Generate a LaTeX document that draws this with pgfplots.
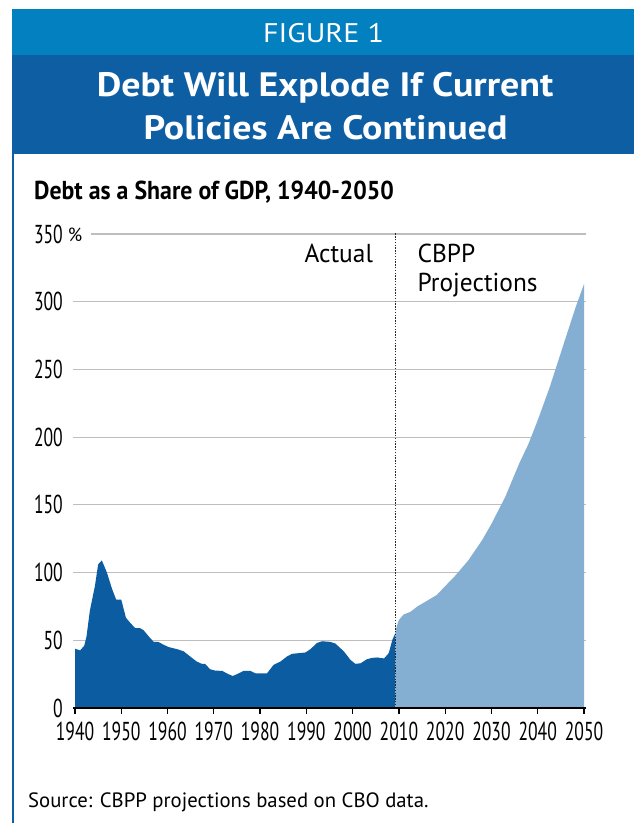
\documentclass[border=0pt]{standalone}
\usepackage{pgfplots}
\pgfplotsset{compat=1.18}
\usepackage{fontspec}
\setmainfont{PT Sans}
\newfontfamily\condfont[FakeStretch=0.68]{PT Sans}
\newfontfamily\subfont[FakeStretch=0.92]{PT Sans}
\newfontfamily\labfont[FakeStretch=0.98]{PT Sans}
\newfontfamily\titlefont[FakeStretch=1.12]{PT Sans}
\newfontfamily\figfont[FakeStretch=1.12]{PT Sans}
\definecolor{lightband}{RGB}{2,128,192}
\definecolor{darkband}{RGB}{14,94,164}
\definecolor{darkarea}{RGB}{12,92,162}
\definecolor{lightarea}{RGB}{133,175,210}
\definecolor{gridgray}{RGB}{190,190,190}

\pgfplotstableread{
year value
1940 43.8
1941.1 42.5
1942 46
1942.5 53
1943.2 71.6
1944.3 90
1945 106
1945.8 109
1946.9 100
1948 88
1948.9 80
1950 80
1951 66.7
1951.9 63
1953 59
1954 59
1954.8 57.5
1955.9 53
1957 48.8
1958 48.8
1959.1 46.8
1960.2 45
1962 43.5
1963.5 41.8
1964.9 38
1966.3 34.3
1967.4 32.6
1968.1 32.6
1969.2 28.6
1970.3 27.6
1971.8 27.4
1973.2 24.9
1974.1 23.6
1975.4 25.6
1976.4 27.4
1977.9 27.4
1979 25.6
1980.4 25.6
1981.5 25.6
1982.9 31.8
1984.4 34.3
1985.8 38
1986.9 40
1988.4 40.5
1989.8 41
1990.9 43.5
1992.3 48
1993.4 49.3
1995.2 48.8
1996.3 47.5
1998.1 41.8
1999.5 35.6
2000.6 32.6
2001.7 33
2003.1 36
2004.2 37
2005.3 37.3
2006.8 36.6
2007.8 40.5
2008.6 50.5
2009.2 55
}\actualdata

\pgfplotstableread{
year value
2009.2 55
2009.5 60
2010 65
2011 69
2012.5 71
2014 75
2016 79
2018.2 83.5
2020 90
2022 97
2025 109
2028 124
2030 136
2033 156
2036 180.6
2038 195
2040 212.5
2042.6 237
2046.1 274
2048.2 296
2050 313
}\projdata

\begin{document}
\begin{tikzpicture}[x=1bp,y=1bp]
\useasboundingbox (0,0) rectangle (634,823);
\fill[white] (0,0) rectangle (634,823);
\fill[lightband] (12,768) rectangle (634,814);
\fill[darkband] (12,669) rectangle (634,768);
\fill[darkband] (12,0) rectangle (14,669);
\node[anchor=base, text=white, inner sep=0pt, font=\figfont\fontsize{27}{30}\selectfont] at (323.5,780) {FIGURE 1};
\node[anchor=base, text=white, inner sep=0pt, font=\titlefont\bfseries\fontsize{34}{40}\selectfont] at (325,726) {Debt Will Explode If Current};
\node[anchor=base, text=white, inner sep=0pt, font=\titlefont\bfseries\fontsize{34}{40}\selectfont] at (325.5,683) {Policies Are Continued};
\node[anchor=base west, inner sep=0pt, font=\subfont\bfseries\fontsize{26}{30}\selectfont] at (34,623) {Debt as a Share of GDP, 1940-2050};
\node[anchor=base west, inner sep=0pt, font=\fontsize{20.8}{24}\selectfont] at (28,15) {Source: CBPP projections based on CBO data.};

\begin{axis}[
  at={(75bp,115bp)}, anchor=south west,
  scale only axis, width=509bp, height=474bp,
  xmin=1940, xmax=2050, ymin=0, ymax=350,
  clip=false,
  axis line style={draw=none},
  xtick={1940,1950,...,2050},
  xticklabels={1940,1950,1960,1970,1980,1990,2000,2010,2020,2030,2040,2050},
  ytick={0,50,...,350},
  yticklabels={0,50,100,150,200,250,300,{350\rlap{\hspace{5bp}\raisebox{2bp}{\labfont\fontsize{19}{19}\selectfont\%}}}},
  xtick pos=bottom, ytick pos=left,
  tick align=outside,
  major tick length=6bp,
  xtick style={black, line width=1.2bp},
  ytick style={draw=none},
  tick label style={font=\condfont\fontsize{26}{26}\selectfont},
  /pgf/number format/assume math mode=true,
  xticklabel style={anchor=north, inner sep=0pt, yshift=-8bp},
  yticklabel style={anchor=east, inner sep=0pt, xshift=-6bp},
]
\draw[gridgray, line width=1.2bp] (axis cs:1939.5,50) -- (axis cs:2050.5,50);
\draw[gridgray, line width=1.2bp] (axis cs:1939.5,100) -- (axis cs:2050.5,100);
\draw[gridgray, line width=1.2bp] (axis cs:1939.5,150) -- (axis cs:2050.5,150);
\draw[gridgray, line width=1.2bp] (axis cs:1939.5,200) -- (axis cs:2050.5,200);
\draw[gridgray, line width=1.2bp] (axis cs:1939.5,250) -- (axis cs:2050.5,250);
\draw[gridgray, line width=1.2bp] (axis cs:1939.5,300) -- (axis cs:2050.5,300);
\draw[gridgray, line width=1.2bp] (axis cs:1943.5,350) -- (axis cs:2050.5,350);
\addplot[draw=none, fill=darkarea] table[x=year, y=value] {\actualdata} \closedcycle;
\addplot[draw=none, fill=lightarea] table[x=year, y=value] {\projdata} \closedcycle;
\draw[black!85, line width=1.5bp, dash pattern=on 1.3bp off 1.5bp] (axis cs:2009.25,0) -- (axis cs:2009.25,351);
\draw[black, line width=1.5bp] (axis cs:1939.6,0) -- (axis cs:2050.4,0);
\node[anchor=base west, inner sep=0pt, font=\labfont\fontsize{26}{30}\selectfont] at (axis cs:2009.25,350) [xshift=-91bp, yshift=-29bp] {Actual};
\node[anchor=base west, inner sep=0pt, font=\labfont\fontsize{26}{30}\selectfont] at (axis cs:2009.25,350) [xshift=22bp, yshift=-29bp] {CBPP};
\node[anchor=base west, inner sep=0pt, font=\labfont\fontsize{26}{30}\selectfont] at (axis cs:2009.25,350) [xshift=22bp, yshift=-58bp] {Projections};
\end{axis}
\end{tikzpicture}
\end{document}
